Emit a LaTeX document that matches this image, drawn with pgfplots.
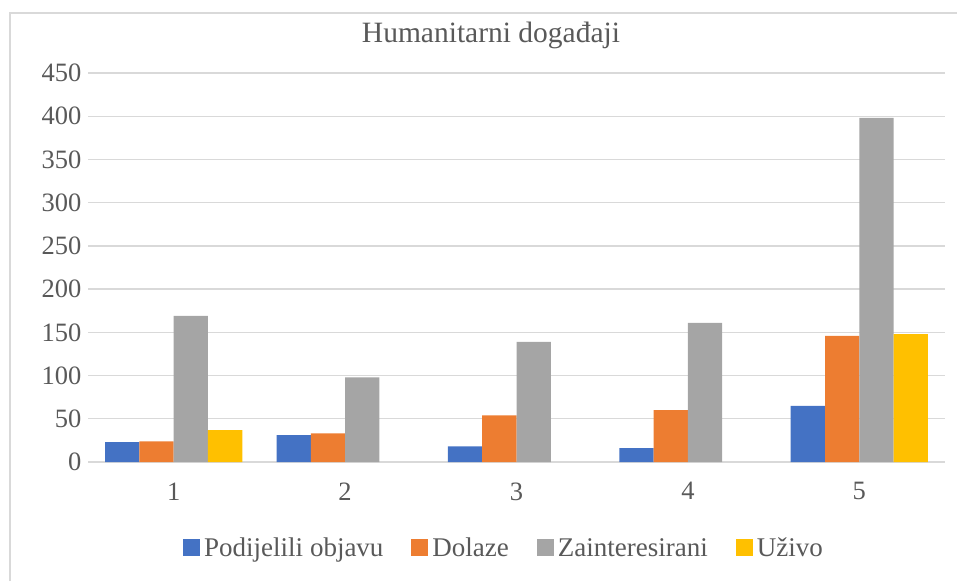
\documentclass[border=0pt]{standalone}
\usepackage{fontspec}
\setmainfont{Liberation Serif}
\usepackage{pgfplots}
\pgfplotsset{compat=1.18}
\definecolor{cblue}{HTML}{4472C4}
\definecolor{corange}{HTML}{ED7D31}
\definecolor{cgray}{HTML}{A5A5A5}
\definecolor{cyellow}{HTML}{FFC000}
\definecolor{txt}{HTML}{595959}
\definecolor{gridc}{HTML}{D9D9D9}
\begin{document}
\begin{tikzpicture}[x=1pt,y=1pt]
\useasboundingbox (0,0) rectangle (957,581);
\draw[gridc, line width=1.2pt] (10,0) -- (10,568) -- (957,568);
\node[text=txt, font=\fontsize{29.5}{29.5}\selectfont] at (491,546) {Humanitarni događaji};
\begin{axis}[
  at={(88pt,119pt)}, anchor=south west,
  scale only axis, width=857pt, height=389pt,
  ybar, bar width=0.2,
  xmin=0.5, xmax=5.5, ymin=0, ymax=450,
  xtick={1,2,3,4,5}, ytick={0,50,...,450},
  enlarge x limits=false,
  axis line style={draw=none},
  major tick length=0pt,
  ymajorgrids, grid style={gridc, line width=1.4pt},
  tick label style={text=txt, font=\fontsize{26.5}{26.5}\selectfont},
  /pgf/number format/assume math mode=true,
  yticklabel style={anchor=east, xshift=-3pt},
  xticklabel style={yshift=-17pt},
  legend style={at={(0.4866,-0.221)}, anchor=center, draw=none, fill=none,
    legend columns=4, font=\fontsize{27}{27}\selectfont, text=txt,
    /tikz/every even column/.append style={column sep=24pt},
    nodes={inner sep=4pt}},
  legend image code/.code={\fill[#1] (0pt,-8.5pt) rectangle (17pt,8.5pt);},
]
\addplot[fill=cblue, draw=none, bar shift=-0.3] coordinates {(1,23) (2,31) (3,18) (4,16) (5,65)};
\addplot[fill=corange, draw=none, bar shift=-0.1] coordinates {(1,24) (2,33) (3,54) (4,60) (5,146)};
\addplot[fill=cgray, draw=none, bar shift=0.1] coordinates {(1,169) (2,98) (3,139) (4,161) (5,398)};
\addplot[fill=cyellow, draw=none, bar shift=0.3] coordinates {(1,37) (5,148)};
\legend{Podijelili objavu, Dolaze, Zainteresirani, Uživo}
\end{axis}
\end{tikzpicture}
\end{document}
